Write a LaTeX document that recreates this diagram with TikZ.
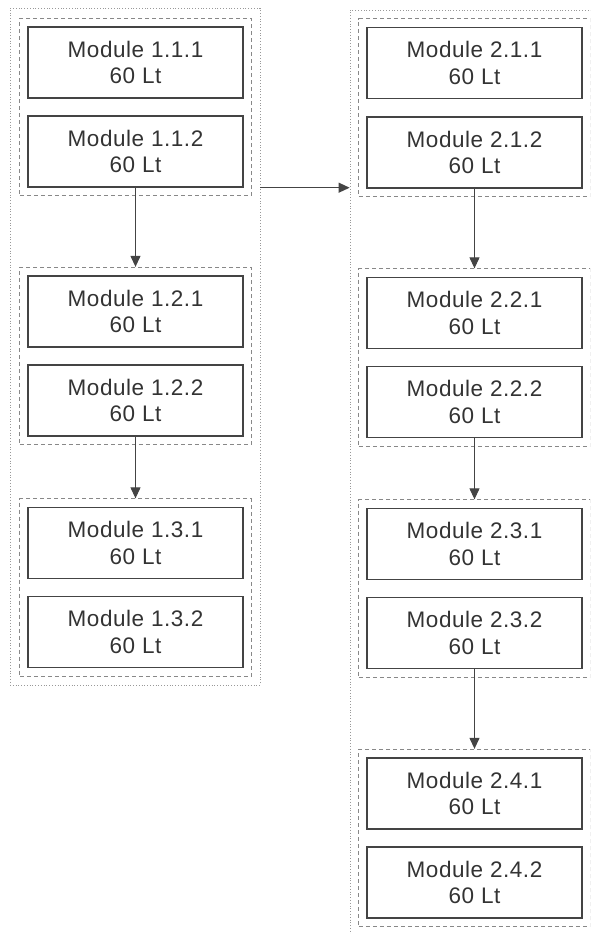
\documentclass[tikz,border=0pt]{standalone}
\usepackage{fontspec}
\setmainfont{Liberation Sans}[LetterSpace=2.5]
\usetikzlibrary{arrows.meta,fit,calc}
\definecolor{modline}{HTML}{444444}
\definecolor{txt}{HTML}{333333}
\definecolor{grp}{HTML}{888888}
\definecolor{outc}{HTML}{999999}
\begin{document}
\begin{tikzpicture}[x=1pt,y=-1pt,
  module/.style={draw=modline, line width=1.4pt, minimum width=215pt, minimum height=71pt,
    align=center, inner sep=0pt, text=txt, font=\fontsize{22.5}{26.5}\selectfont},
  group/.style={draw=grp, dash pattern=on 4pt off 3pt, line width=0.9pt, inner xsep=7.5pt, inner ysep=8pt},
  outer/.style={draw=outc, dotted, line width=0.8pt, inner sep=0pt},
  conn/.style={draw=modline, line width=1.1pt, -{Triangle[length=11pt,width=10pt]}}]
\useasboundingbox (0,0) rectangle (590,934);
\clip (0,0) rectangle (590,934);
% outer boxes
\node[outer, minimum width=250pt, minimum height=677pt] (L) at (135,346.5) {};
\node[outer, minimum width=246pt, minimum height=928pt] (R) at (473,474) {};
% left modules
\node[module] (m111) at (135.5,62.5) {Module 1.1.1\\60 Lt};
\node[module] (m112) at (135.5,151.5) {Module 1.1.2\\60 Lt};
\node[module] (m121) at (135.5,311.5) {Module 1.2.1\\60 Lt};
\node[module] (m122) at (135.5,400.5) {Module 1.2.2\\60 Lt};
\node[module] (m131) at (135.5,543) {Module 1.3.1\\60 Lt};
\node[module] (m132) at (135.5,632) {Module 1.3.2\\60 Lt};
% right modules
\node[module] (m211) at (474.5,63) {Module 2.1.1\\60 Lt};
\node[module] (m212) at (474.5,152.5) {Module 2.1.2\\60 Lt};
\node[module] (m221) at (474.5,313) {Module 2.2.1\\60 Lt};
\node[module] (m222) at (474.5,402) {Module 2.2.2\\60 Lt};
\node[module] (m231) at (474.5,544) {Module 2.3.1\\60 Lt};
\node[module] (m232) at (474.5,633) {Module 2.3.2\\60 Lt};
\node[module] (m241) at (474.5,793.5) {Module 2.4.1\\60 Lt};
\node[module] (m242) at (474.5,882.5) {Module 2.4.2\\60 Lt};
% groups
\node[group, fit=(m111)(m112)] (g11) {};
\node[group, fit=(m121)(m122)] (g12) {};
\node[group, fit=(m131)(m132)] (g13) {};
\node[group, fit=(m211)(m212)] (g21) {};
\node[group, fit=(m221)(m222)] (g22) {};
\node[group, fit=(m231)(m232)] (g23) {};
\node[group, fit=(m241)(m242)] (g24) {};
% connectors
\draw[conn] (m112.south) -- (g12.north);
\draw[conn] (m122.south) -- (g13.north);
\draw[conn] (m212.south) -- (g22.north);
\draw[conn] (m222.south) -- (g23.north);
\draw[conn] (m232.south) -- (g24.north);
\draw[conn] (L.east |- m112.south) -- (R.west |- m112.south);
\end{tikzpicture}
\end{document}
